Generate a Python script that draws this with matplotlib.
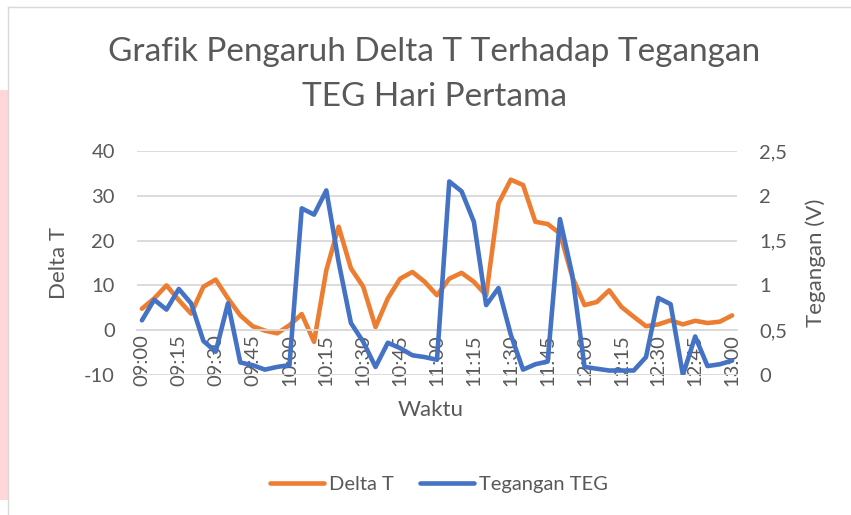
import matplotlib
matplotlib.use("Agg")
import matplotlib.pyplot as plt
from matplotlib.lines import Line2D
from matplotlib.patches import Rectangle

plt.rcParams['font.family'] = ['Lato', 'DejaVu Sans']

# ==========================================
# data
# ==========================================
waktu = ['09:00', '09:05', '09:10', '09:15', '09:20', '09:25', '09:30', '09:35', '09:40',
         '09:45', '09:50', '09:55', '10:00', '10:05', '10:10', '10:15', '10:20', '10:25',
         '10:30', '10:35', '10:40', '10:45', '10:50', '10:55', '11:00', '11:05', '11:10',
         '11:15', '11:20', '11:25', '11:30', '11:35', '11:40', '11:45', '11:50', '11:55',
         '12:00', '12:05', '12:10', '12:15', '12:20', '12:25', '12:30', '12:35', '12:40',
         '12:45', '12:50', '12:55', '13:00']
delta_t = [4.8, 7.1, 10.0, 6.7, 3.7, 9.7, 11.3, 7.1, 3.3, 0.9, -0.1, -0.7, 1.1, 3.6, -2.6,
           13.4, 23.1, 13.8, 9.7, 0.7, 7.1, 11.5, 13.0, 10.8, 7.8, 11.5, 12.8, 10.8, 7.8,
           28.3, 33.6, 32.4, 24.2, 23.7, 21.6, 11.9, 5.6, 6.3, 8.9, 5.2, 3.0, 0.9, 1.3, 2.2,
           1.3, 2.1, 1.6, 1.9, 3.3]
tegangan = [0.61, 0.84, 0.73, 0.96, 0.80, 0.38, 0.26, 0.80, 0.14, 0.11, 0.06, 0.09, 0.11,
            1.86, 1.79, 2.06, 1.26, 0.58, 0.37, 0.09, 0.36, 0.30, 0.22, 0.20, 0.17, 2.16,
            2.05, 1.71, 0.78, 0.97, 0.45, 0.06, 0.12, 0.15, 1.74, 1.12, 0.09, 0.07, 0.05,
            0.05, 0.05, 0.20, 0.86, 0.79, 0.0, 0.43, 0.10, 0.12, 0.16]
left_ticks = [-10, 0, 10, 20, 30, 40]
right_ticks = [0, 0.5, 1, 1.5, 2, 2.5]
right_labels = ['0', '0,5', '1', '1,5', '2', '2,5']

ORANGE = '#ED7D31'
BLUE = '#4472C4'
TXT = '#595959'
GRID = '#D9D9D9'

W, H = 851, 515
fig = plt.figure(figsize=(W / 100, H / 100), dpi=100)

# pink strip + chart frame on the left edge
fig.patches.append(Rectangle((0, 15 / H), 8 / W, 410 / H, transform=fig.transFigure,
                             facecolor='#FFD6D9', edgecolor='none', zorder=0))
fig.add_artist(Line2D([8 / W, 8 / W], [0, 1 - 7 / H], transform=fig.transFigure,
                      color='#D9D9D9', lw=1))
fig.add_artist(Line2D([8 / W, 1], [1 - 7 / H, 1 - 7 / H], transform=fig.transFigure,
                      color='#D9D9D9', lw=1))

x0, x1 = 137, 737
y_top, y_bot = 151, 375
ax = fig.add_axes([x0 / W, (H - y_bot) / H, (x1 - x0) / W, (y_bot - y_top) / H])
ax2 = ax.twinx()

# category axis crosses at 0 (as in the spreadsheet chart)
for a in (ax, ax2):
    for s in ['top', 'left', 'right', 'bottom']:
        a.spines[s].set_visible(False)
ax.spines['bottom'].set_visible(True)
ax.spines['bottom'].set_position(('data', 0))
ax.spines['bottom'].set_color(GRID)
ax.spines['bottom'].set_linewidth(1.3)

xs = list(range(len(waktu)))
ax.plot(xs, delta_t, color=ORANGE, lw=3.3, solid_joinstyle='round', solid_capstyle='round')
ax2.plot(xs, tegangan, color=BLUE, lw=3.3, solid_joinstyle='round', solid_capstyle='round')

ax.set_xlim(-0.4, len(waktu) - 0.6)
ax.set_ylim(-10, 40)
ax2.set_ylim(0, 2.5)

ax.set_yticks(left_ticks)
ax.set_yticklabels([str(v) for v in left_ticks])
ax2.set_yticks(right_ticks)
ax2.set_yticklabels(right_labels)

ax.set_xticks(xs[::3])
ax.set_xticklabels(waktu[::3])

ax.grid(axis='y', color=GRID, lw=1.3)
ax.set_axisbelow(True)

ax.tick_params(axis='x', length=0, pad=3, labelsize=14.5, labelcolor=TXT, labelrotation=90)
ax.tick_params(axis='y', length=0, pad=16, labelsize=14.5, labelcolor=TXT)
ax2.tick_params(axis='y', length=0, pad=16, labelsize=14.5, labelcolor=TXT)

fig.text(434 / W, 1 - 52 / H, 'Grafik Pengaruh Delta T Terhadap Tegangan', ha='center',
         va='center', fontsize=24, color=TXT)
fig.text(434 / W, 1 - 97 / H, 'TEG Hari Pertama', ha='center', va='center',
         fontsize=24, color=TXT)

fig.text(59 / W, 1 - 263 / H, 'Delta T', rotation=90, ha='center', va='center',
         fontsize=16, color=TXT)
fig.text(816 / W, 1 - 263 / H, 'Tegangan (V)', rotation=90, ha='center', va='center',
         fontsize=16, color=TXT)
fig.text(431 / W, 1 - 410 / H, 'Waktu', ha='center', va='center', fontsize=16, color=TXT)

handles = [Line2D([], [], color=ORANGE, lw=3.3, solid_capstyle='round'),
           Line2D([], [], color=BLUE, lw=3.3, solid_capstyle='round')]
fig.legend(handles, ['Delta T', 'Tegangan TEG'], loc='center', ncol=2,
           bbox_to_anchor=(439 / W, 1 - 484 / H), frameon=False, fontsize=14.5,
           labelcolor=TXT, handlelength=2.7, handletextpad=0.25, columnspacing=1.3)

fig.savefig('out.png', dpi=100)
